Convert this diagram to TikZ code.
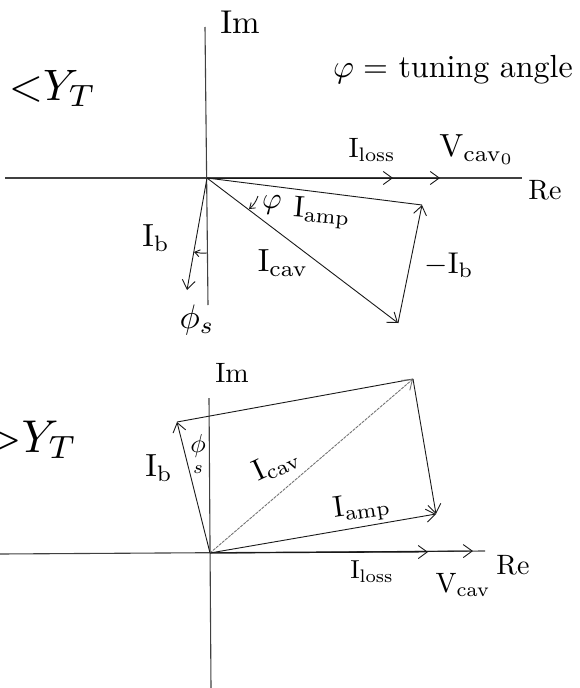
\documentclass[tikz,border=0pt]{standalone}
\usetikzlibrary{arrows.meta}
\begin{document}
\begin{tikzpicture}[x=1pt,y=-1pt,
  axisline/.style={black!75, line width=1.1pt},
  vec/.style={black!90, line width=0.9pt, -{Straight Barb[length=9pt,width=13pt,line width=0.9pt]}},
  smallvec/.style={black!90, line width=0.9pt, -{Straight Barb[length=5pt,width=7pt,line width=0.9pt]}},
  dotvec/.style={black!55, line width=0.9pt, dash pattern=on 3pt off 1pt, -{Straight Barb[length=9pt,width=13pt,line width=0.9pt]}},
  seg/.style={black!90, line width=0.9pt},
  lbl/.style={inner sep=0pt, text=black, font=\fontsize{10}{12}\selectfont},
]
\useasboundingbox (0,0) rectangle (580,688);
% ---------- top diagram ----------
\coordinate (O1) at (207,178);
\coordinate (ImT1) at (205,27);
\coordinate (ImB1) at (208,305);
\coordinate (ReL1) at (5,178);
\coordinate (ReR1) at (522,178);
\coordinate (Lo1) at (393,178);
\coordinate (Vc1) at (440,178);
\coordinate (Am1) at (422,205);
\coordinate (Cv1) at (398,323);
\coordinate (Ib1) at (187,290);
\coordinate (PsA) at (207,253);
\coordinate (PsB) at (194,252);
\coordinate (PhA) at (258,196);
\coordinate (PhB) at (249,209);
\draw[axisline] (ImT1) -- (ImB1);
\draw[axisline] (ReL1) -- (ReR1);
\draw[vec] (O1) -- (Lo1);
\draw[vec] (O1) -- (Vc1);
\draw[seg] (O1) -- (Am1);
\draw[vec] (O1) -- (Cv1);
\draw[vec] (Cv1) -- (Am1);
\draw[vec] (O1) -- (Ib1);
\draw[smallvec] (PsA) to[bend left=8] (PsB);
\draw[smallvec] (PhA) to[bend left=15] (PhB);
\node[lbl, scale=3.3] (imtop) at (240,22) {Im};
\node[lbl, anchor=base west, scale=4.4] (yt1) at (8,100) {$\mathord{<}Y_T$};
\node[lbl, scale=3.2] (tune) at (453,70) {$\varphi=$ tuning angle};
\node[lbl, scale=2.8] (iloss1) at (372,150) {$\mathrm{I}_{\mathrm{loss}}$};
\node[lbl, scale=3.2] (vcav1) at (477,150) {$\mathrm{V}_{\mathrm{cav}_0}$};
\node[lbl, scale=2.8] (re1) at (545,190) {Re};
\node[lbl, rotate=-5, scale=3.0] (iamp1) at (322,213) {$\mathrm{I}_{\mathrm{amp}}$};
\node[lbl, scale=3.0] (phi1) at (272,205) {$\varphi$};
\node[lbl, scale=3.2] (icav1) at (283,263) {$\mathrm{I}_{\mathrm{cav}}$};
\node[lbl, scale=3.2] (ib1) at (156,238) {$\mathrm{I}_{\mathrm{b}}$};
\node[lbl, scale=3.4] (phis1) at (197,320) {$\phi_s$};
\node[lbl, scale=3.0] (mib1) at (449,265) {$-\mathrm{I}_{\mathrm{b}}$};
% ---------- bottom diagram ----------
\coordinate (O2) at (210,553);
\coordinate (ImT2) at (209,398);
\coordinate (ImB2) at (211,688);
\coordinate (ReL2) at (0,554);
\coordinate (ReR2) at (485,551);
\coordinate (Lo2) at (428,552);
\coordinate (Vc2) at (473,551);
\coordinate (Ib2) at (177,422);
\coordinate (Cv2) at (413,379);
\coordinate (Am2) at (436,514);
\draw[axisline] (ImT2) -- (ImB2);
\draw[axisline] (ReL2) -- (ReR2);
\draw[vec] (O2) -- (Lo2);
\draw[vec] (O2) -- (Vc2);
\draw[vec] (O2) -- (Ib2);
\draw[seg] (Ib2) -- (Cv2);
\draw[dotvec] (O2) -- (Cv2);
\draw[vec] (Cv2) -- (Am2);
\draw[vec] (O2) -- (Am2);
\node[lbl, scale=2.8] (imbot) at (232,373) {Im};
\node[lbl, anchor=base west, scale=4.6] (yt2) at (-15,452) {$\mathord{>}Y_T$};
\node[lbl, scale=3.2] (ib2) at (159,468) {$\mathrm{I}_{\mathrm{b}}$};
\node[lbl, scale=2.6] (phis2) at (198,455) {$\mathop{\phi}\limits_{s}$};
\node[lbl, rotate=25, scale=3.0] (icav2) at (276,464) {$\mathrm{I}_{\mathrm{cav}}$};
\node[lbl, rotate=8, scale=3.0] (iamp2) at (362,508) {$\mathrm{I}_{\mathrm{amp}}$};
\node[lbl, scale=2.6] (iloss2) at (372,572) {$\mathrm{I}_{\mathrm{loss}}$};
\node[lbl, scale=2.8] (vcav2) at (463,585) {$\mathrm{V}_{\mathrm{cav}}$};
\node[lbl, scale=2.8] (re2) at (513,565) {Re};
\end{tikzpicture}
\end{document}
